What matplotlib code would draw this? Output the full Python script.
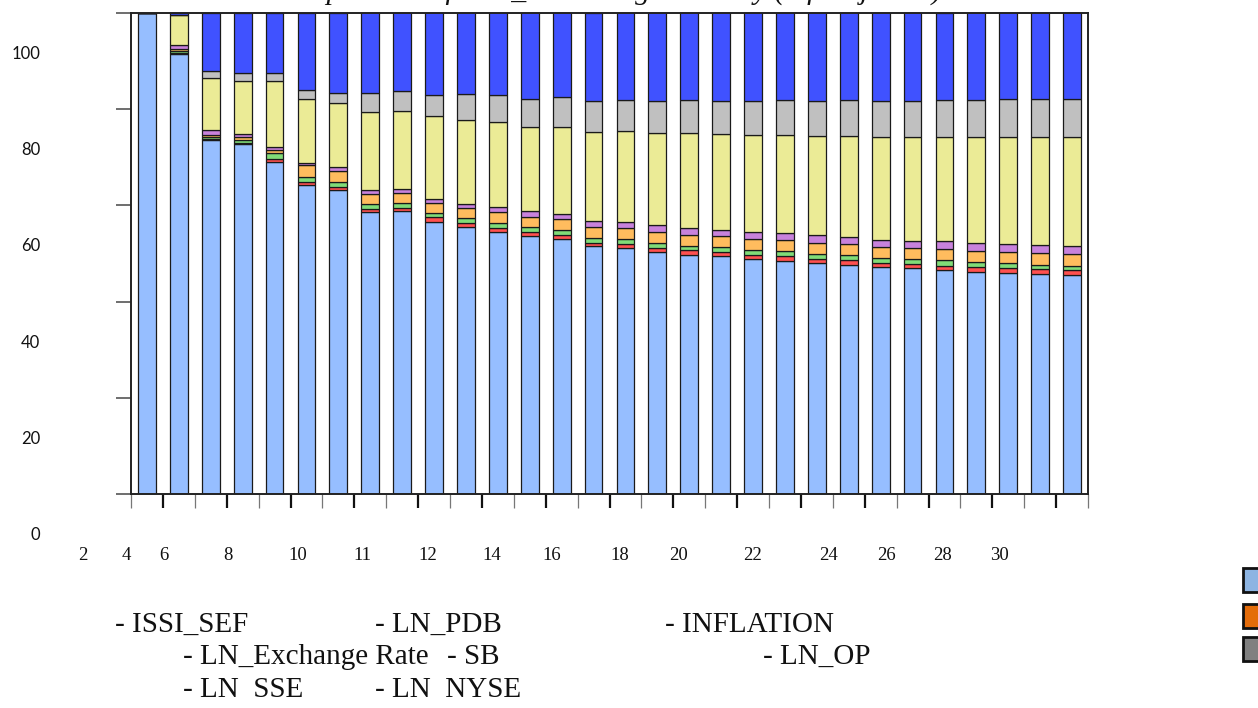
import numpy as np
import matplotlib.pyplot as plt
import matplotlib.transforms as mtransforms
from matplotlib.patches import Rectangle

W, H = 1258, 708

# variance decomposition shares (%) per period, bottom to top of the stack
periods = list(range(1, 31))
issi_sef = [100, 91.5, 73.65, 72.8, 69.1, 64.3, 63.2, 58.65, 58.8, 56.65,
            55.55, 54.45, 53.6, 53.0, 51.5, 51.2, 50.35, 49.65, 49.45, 48.9,
            48.5, 48.0, 47.55, 47.15, 46.95, 46.5, 46.2, 46.0, 45.7, 45.5]
ln_pdb = [0, 0.1, 0.2, 0.2, 0.6, 0.6, 0.6, 0.5, 0.65, 0.85,
          0.85, 0.9, 0.85, 0.85, 0.75, 0.85, 0.85, 1.0, 0.85, 0.85,
          0.9, 0.9, 1.0, 0.9, 0.9, 1.0, 0.95, 1.05, 1.0, 1.0]
inflation = [0, 0.4, 0.4, 0.55, 1.25, 1.05, 1.1, 1.05, 1.1, 0.9,
             0.9, 1.05, 1.1, 1.05, 1.0, 0.9, 1.05, 1.0, 1.0, 1.05,
             1.1, 1.05, 1.05, 1.05, 1.05, 1.05, 1.05, 1.05, 1.0, 1.0]
ln_exchange = [0, 0.5, 0.4, 0.6, 0.5, 2.35, 2.35, 2.15, 2.1, 2.1,
               2.15, 2.15, 2.1, 2.2, 2.2, 2.3, 2.2, 2.2, 2.3, 2.2,
               2.3, 2.3, 2.3, 2.35, 2.3, 2.35, 2.4, 2.3, 2.4, 2.35]
sb = [0, 0.75, 0.95, 0.6, 0.75, 0.55, 0.7, 0.75, 0.8, 0.9,
      0.9, 1.2, 1.1, 1.15, 1.25, 1.2, 1.4, 1.4, 1.3, 1.45,
      1.45, 1.6, 1.5, 1.45, 1.5, 1.6, 1.65, 1.65, 1.65, 1.8]
ln_op = [0, 6.3, 10.85, 11.2, 13.75, 13.2, 13.4, 16.4, 16.15, 17.1,
         17.4, 17.5, 17.65, 17.95, 18.55, 19.0, 19.25, 19.75, 19.9, 20.15,
         20.35, 20.5, 21.0, 21.3, 21.45, 21.8, 21.95, 22.2, 22.4, 22.55]
ln_sse = [0, 0.1, 1.5, 1.65, 1.65, 1.95, 2.0, 3.8, 4.1, 4.4,
          5.5, 5.6, 5.75, 6.4, 6.45, 6.45, 6.65, 6.9, 7.0, 7.15,
          7.3, 7.35, 7.45, 7.6, 7.65, 7.7, 7.75, 7.8, 7.9, 8.0]
ln_nyse = [0, 0.35, 12.15, 12.5, 12.5, 16.1, 16.75, 16.9, 16.45, 17.3,
           16.9, 17.3, 18.0, 17.6, 18.4, 18.25, 18.4, 18.35, 18.4, 18.4,
           18.25, 18.5, 18.35, 18.35, 18.35, 18.1, 18.2, 18.1, 18.1, 18.0]

series = [issi_sef, ln_pdb, inflation, ln_exchange, sb, ln_op, ln_sse, ln_nyse]
colors = ['#96BEFF', '#FF5050', '#80DC78', '#FFBC5E', '#C882DC', '#EBEB96', '#C0C0C0', '#4052FF']

legend_names = ['- ISSI_SEF', '- LN_PDB', '- INFLATION', '- LN_Exchange Rate',
                '- SB', '- LN_OP', '- LN  SSE', '- LN  NYSE']
legend_px = [(115, 632), (375, 632), (665, 632), (183, 664),
             (447, 664), (763, 664), (183, 697), (375, 697)]

y_ticks = [0, 20, 40, 60, 80, 100]
y_tick_labels = ['0', '20', '40', '60', '80', '100']
x_tick_text = ['2', '4', '6', '8', '10', '11', '12', '14', '16', '18',
               '20', '22', '24', '26', '28', '30']
x_text_px = [83, 126, 164, 228, 298, 362, 428, 492, 552, 620,
             678, 753, 829, 886, 943, 999]

title = 'Variance Decomposition of ISSI_SEF using Cholesky (d.f. adjusted) Factors'
serif = 'Liberation Serif'

fig = plt.figure(figsize=(W / 100, H / 100), dpi=100)
ax = fig.add_axes([131 / W, 1 - 494 / H, (1088 - 131) / W, (494 - 13) / H])

x = np.arange(len(periods))
bottom = np.zeros(len(periods))
for vals, c in zip(series, colors):
    ax.bar(x, vals, width=0.56, bottom=bottom, color=c,
           edgecolor='#1a1a1a', linewidth=0.9)
    bottom += np.array(vals)

ax.set_xlim(-0.5, len(periods) - 0.5)
ax.set_ylim(0, 100)

for s in ax.spines.values():
    s.set_linewidth(1.4)
    s.set_color('#222222')

# y ticks with labels drawn displaced below their ticks
ax.set_yticks(y_ticks)
ax.set_yticklabels([])
ax.tick_params(axis='y', direction='out', length=11, width=1.2, color='#555555')
trans = mtransforms.blended_transform_factory(fig.transFigure, ax.transData)
shift = mtransforms.ScaledTranslation(0, -41 / 100, fig.dpi_scale_trans)
for v, lab in zip(y_ticks, y_tick_labels):
    ax.text(40 / W, v, lab, transform=trans + shift, ha='right', va='center',
            family='Lato', fontsize=12, color='#111111')

# x ticks at category boundaries, alternating heavy / light
ax.set_xticks(np.arange(0.5, len(periods) - 0.5, 2))
ax.set_xticks(np.arange(-0.5, len(periods), 2), minor=True)
ax.set_xticklabels([])
ax.tick_params(axis='x', which='major', direction='out', length=10, width=1.6, color='#111111')
ax.tick_params(axis='x', which='minor', direction='out', length=10, width=0.9, color='#777777')

for px, lab in zip(x_text_px, x_tick_text):
    fig.text(px / W, 1 - 556 / H, lab, ha='center', va='center',
             family=serif, fontsize=13.5, color='#111111')

# title: only its descenders show below the top edge
fig.text(585 / W, 1 + 0.5 / H, title, ha='center', va='baseline',
         family=serif, style='italic', fontsize=21.5, color='#111111')

# legend text
for (px, py), name in zip(legend_px, legend_names):
    fig.text(px / W, 1 - py / H, name, ha='left', va='baseline',
             family=serif, fontsize=21, color='#111111')

# legend swatches at right edge
swatch_colors = ['#8DB4E2', '#E46C0A', '#808080']
swatch_top = [568, 604, 637]
for c, top in zip(swatch_colors, swatch_top):
    fig.patches.append(Rectangle((1243 / W, 1 - (top + 24) / H), 30 / W, 24 / H,
                                 transform=fig.transFigure, facecolor=c,
                                 edgecolor='#111111', linewidth=2))

fig.savefig('out.png', dpi=100)
